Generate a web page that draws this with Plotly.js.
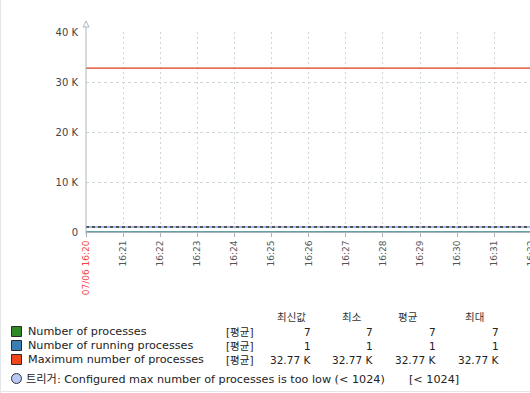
<!DOCTYPE html>
<html>
<head>
<meta charset="utf-8">
<script src="https://cdn.plot.ly/plotly-3.0.1.min.js"></script>
<style>
html,body{margin:0;padding:0;overflow:hidden;background:#fff;width:530px;height:393px;}
#chart{position:absolute;left:0;top:0;}
</style>
</head>
<body>
<div id="chart"></div>
<script>
// ---- data ----
var times = ['2024-07-06 16:20:00','2024-07-06 16:21:00','2024-07-06 16:22:00','2024-07-06 16:23:00',
  '2024-07-06 16:24:00','2024-07-06 16:25:00','2024-07-06 16:26:00','2024-07-06 16:27:00',
  '2024-07-06 16:28:00','2024-07-06 16:29:00','2024-07-06 16:30:00','2024-07-06 16:31:00','2024-07-06 16:32:00'];
var numProcesses = [7,7,7,7,7,7,7,7,7,7,7,7,7];
var numRunning   = [1,1,1,1,1,1,1,1,1,1,1,1,1];
var maxProcesses = [32768,32768,32768,32768,32768,32768,32768,32768,32768,32768,32768,32768,32768];
var triggerValue = 1024;

var tickTimes = times;
var tickLabels = ['<span style="color:#ee4444">07/06 16:20</span>','16:21','16:22','16:23','16:24','16:25',
  '16:26','16:27','16:28','16:29','16:30','16:31','16:32'];
var yTickVals = [0,10000,20000,30000,40000];
var yTickText = ['0','10 K','20 K','30 K','40 K'];

var seriesNames = ['Number of processes','Number of running processes','Maximum number of processes'];
var seriesFunc = ['[평균]','[평균]','[평균]'];
var statHeaders = ['최신값','최소','평균','최대'];
var statLast = ['7','1','32.77 K'];
var statMin  = ['7','1','32.77 K'];
var statAvg  = ['7','1','32.77 K'];
var statMax  = ['7','1','32.77 K'];
var triggerText = '트리거: Configured max number of processes is too low (< 1024)';
var triggerCond = '[< 1024]';

// ---- styles ----
var colors = ['#2f8a25','#3a7fb4','#f0461a'];
var FONT = 'DejaVu Sans, Noto Sans CJK KR, sans-serif';
var L = 86, T = 32, W = 545, H = 393, PW = W - L, PH = 200;
function px(x){ return (x - L) / PW; }
function py(y){ return (T + PH - y) / PH; }

var traces = [
  {x: times, y: numProcesses, name: seriesNames[0], mode: 'lines', line: {color: colors[0], width: 1}},
  {x: times, y: numRunning, name: seriesNames[1], mode: 'lines', line: {color: colors[1], width: 1}},
  {x: times, y: maxProcesses, name: seriesNames[2], mode: 'lines', line: {color: '#dc3c14', width: 1.3}},
  {x: times, y: times.map(function(){return triggerValue;}), mode: 'lines', line: {color: '#9db6f7', width: 2}, hoverinfo: 'skip'},
  {x: times, y: times.map(function(){return triggerValue;}), mode: 'lines', line: {color: '#555555', width: 2, dash: '3px,3px'}, hoverinfo: 'skip'}
];

var shapes = [];
var annotations = [];
// y axis line with arrow
shapes.push({type:'line', xref:'paper', yref:'paper', x0:0, x1:0, y0:py(234), y1:py(22), line:{color:'#a9b6bd', width:1}});
shapes.push({type:'path', xref:'paper', yref:'paper',
  path: 'M '+px(86)+' '+py(21)+' L '+px(83)+' '+py(27)+' L '+px(89)+' '+py(27)+' Z',
  line:{color:'#a9b6bd', width:1}, fillcolor:'#ffffff'});
// page frame lines
shapes.push({type:'line', xref:'paper', yref:'paper', x0:px(0.5), x1:px(0.5), y0:py(0), y1:py(393), line:{color:'#e3e7ea', width:1}});
shapes.push({type:'line', xref:'paper', yref:'paper', x0:px(0), x1:px(530), y0:py(391.5), y1:py(391.5), line:{color:'#e3e7ea', width:1}});

var TXT = {family:FONT, size:11.2, color:'#222'};
var VAL = {family:FONT, size:10.5, color:'#222'};
// legend table headers
var headerX = [291, 352, 408, 474];
for (var h = 0; h < statHeaders.length; h++) {
  annotations.push({xref:'paper', yref:'paper', x:px(headerX[h]), y:py(317), text:statHeaders[h], showarrow:false,
    xanchor:'center', yanchor:'middle', font:{family:FONT, size:10.5, color:'#333'}});
}
var rowY = [331.5, 345.5, 359.5];
var colRight = [313, 375, 438, 501];
for (var i = 0; i < seriesNames.length; i++) {
  shapes.push({type:'rect', xref:'paper', yref:'paper', x0:px(11.5), x1:px(21.5), y0:py(rowY[i]-5), y1:py(rowY[i]+5),
    fillcolor: colors[i], line:{color:'#2a2a2a', width:1}});
  annotations.push({xref:'paper', yref:'paper', x:px(26), y:py(rowY[i]), text:seriesNames[i], showarrow:false,
    xanchor:'left', yanchor:'middle', font:TXT});
  annotations.push({xref:'paper', yref:'paper', x:px(224), y:py(rowY[i]), text:seriesFunc[i], showarrow:false,
    xanchor:'left', yanchor:'middle', font:VAL});
  var vals = [statLast[i], statMin[i], statAvg[i], statMax[i]];
  for (var c = 0; c < 4; c++) {
    annotations.push({xref:'paper', yref:'paper', x:px(colRight[c]), y:py(rowY[i]), text:vals[c], showarrow:false,
      xanchor:'right', yanchor:'middle', font:VAL});
  }
}
// trigger row
shapes.push({type:'circle', xref:'paper', yref:'paper', x0:px(11.5), x1:px(21.5), y0:py(373.5), y1:py(383.5),
  fillcolor:'#b7c8f5', line:{color:'#333', width:1}});
annotations.push({xref:'paper', yref:'paper', x:px(24), y:py(379), text:triggerText, showarrow:false,
  xanchor:'left', yanchor:'middle', font:TXT});
annotations.push({xref:'paper', yref:'paper', x:px(407), y:py(379), text:triggerCond, showarrow:false,
  xanchor:'left', yanchor:'middle', font:TXT});

var layout = {
  width: W, height: H,
  margin: {l: L, r: 0, t: T, b: H - T - PH, pad: 0},
  paper_bgcolor: '#ffffff', plot_bgcolor: '#ffffff',
  showlegend: false,
  font: {family: FONT, size: 9, color: '#555'},
  xaxis: {
    type: 'date',
    range: ['2024-07-06 16:20:00', '2024-07-06 16:32:22'],
    tickmode: 'array', tickvals: tickTimes, ticktext: tickLabels,
    tickangle: -90, tickfont: {family: FONT, size: 9, color: '#555'},
    ticks: 'outside', ticklen: 4, tickcolor: '#a9b6bd',
    showgrid: true, gridcolor: '#cfd6da', griddash: '2px,3px', gridwidth: 1,
    showline: true, linecolor: '#a9b6bd', linewidth: 1,
    zeroline: false, fixedrange: true
  },
  yaxis: {
    range: [0, 40000],
    tickmode: 'array', tickvals: yTickVals, ticktext: yTickText,
    tickfont: {family: FONT, size: 10, color: '#444'},
    ticks: 'outside', ticklen: 5, tickcolor: 'rgba(0,0,0,0)',
    showgrid: true, gridcolor: '#cfd6da', griddash: '3px,3px', gridwidth: 1,
    showline: false, zeroline: false, fixedrange: true
  },
  shapes: shapes,
  annotations: annotations
};

Plotly.newPlot('chart', traces, layout, {displayModeBar: false, staticPlot: true});
</script>
</body>
</html>
